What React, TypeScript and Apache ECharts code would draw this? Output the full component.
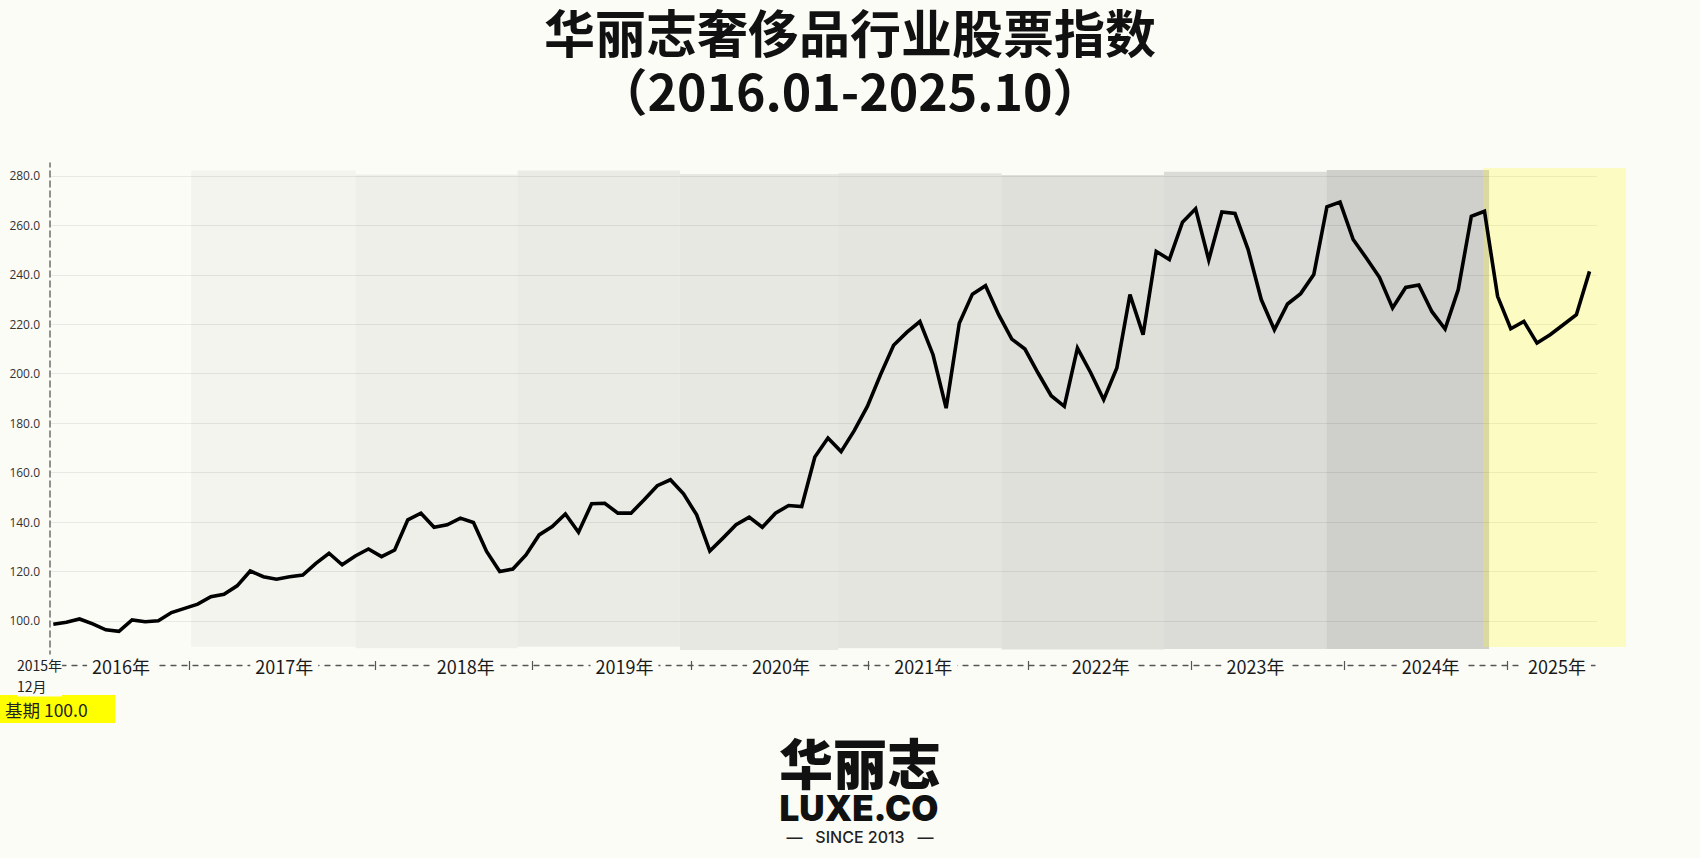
import React, { useEffect, useRef } from 'react';
import * as echarts from 'echarts';

// Monthly index values, Jan 2016 .. Oct 2025 (base Dec 2015 = 100)
const indexValues: number[] = [
  98.7, 99.5, 100.8, 98.8, 96.4, 95.8, 100.4, 99.7, 100.1, 103.4, 105.1, 106.8,
  109.8, 110.8, 114.2, 120.2, 117.9, 116.9, 117.9, 118.6, 123.3, 127.4, 122.7, 126.3,
  129.1, 126.0, 128.7, 140.9, 143.6, 137.9, 138.9, 141.6, 139.8, 128.1, 120.0, 121.0,
  126.7, 134.8, 138.2, 143.3, 135.9, 147.4, 147.6, 143.6, 143.6, 149.0, 154.7, 157.1,
  151.4, 142.9, 128.3, 133.5, 138.9, 142.0, 137.9, 143.6, 146.7, 146.3, 166.3, 174.0,
  168.5, 177.0, 186.8, 199.6, 211.5, 216.7, 221.1, 207.7, 186.1, 220.4, 232.2, 235.6,
  223.9, 214.0, 210.0, 200.3, 191.1, 186.8, 210.4, 200.5, 189.5, 202.3, 232.0, 215.8,
  249.5, 246.2, 261.3, 266.7, 246.0, 265.4, 264.8, 250.2, 230.0, 217.8, 228.2, 232.4,
  240.1, 267.5, 269.4, 254.3, 246.8, 239.0, 226.6, 234.9, 235.9, 225.1, 218.1, 234.0,
  263.7, 265.7, 231.3, 218.2, 221.2, 212.4, 215.8, 219.8, 223.9, 241.4,
];

// Year tick labels (x in month-index units, 0 = Jan 2016)
const yearLabels: string[] = ['2016年', '2017年', '2018年', '2019年', '2020年', '2021年', '2022年', '2023年', '2024年', '2025年'];
const yearLabelPos: number[] = [5.16, 17.59, 31.41, 43.5, 55.43, 66.26, 79.78, 91.56, 104.9, 114.52];
const yearTickPos: number[] = [10.33, 24.5, 36.46, 48.6, 62.07, 74.26, 86.65, 98.3, 110.7];

// Year background bands (month-index units / index values)
const bandNames: string[] = ['2017', '2018', '2019', '2020', '2021', '2022', '2023', '2024'];
const bandStart: number[] = [10.49, 23.03, 35.37, 47.73, 59.79, 72.23, 84.59, 96.98];
const bandEnd: number[] = [23.03, 35.37, 47.73, 59.79, 72.23, 84.59, 96.98, 109.35];
const bandTop: number[] = [282.2, 280.6, 282.2, 280.8, 281.1, 280.4, 281.7, 282.4];
const bandBottom: number[] = [89.6, 89.0, 89.6, 88.3, 89.0, 88.5, 88.7, 88.7];
const bandShade: number[] = [0.03, 0.05, 0.065, 0.08, 0.09, 0.108, 0.128, 0.178];

const highlightStart = 108.89;
const highlightTop = 283.2;

const BG = '#fcfcf7';

export default function App() {
  const ref = useRef<HTMLDivElement>(null);
  useEffect(() => {
    if (!ref.current) return;
    const chart = echarts.init(ref.current, undefined, { renderer: 'svg' });
    const labelFor = (v: number) => {
      const i = yearLabelPos.findIndex((p) => Math.abs(p - v) < 1e-6);
      return i >= 0 ? yearLabels[i] : '';
    };
    const titleStyle = {
      fontFamily: 'Noto Sans CJK SC',
      fontWeight: 'bold',
      fontSize: 50,
      lineHeight: 52,
      color: '#111',
    };
    const option: any = {
      animation: false,
      backgroundColor: BG,
      title: [
        { text: '华丽志奢侈品行业股票指数', left: 'center', top: 5, padding: 0, textStyle: { ...titleStyle, fontSize: 51 } },
        { text: '（2016.01-2025.10）', left: 'center', top: 63, padding: 0, textStyle: titleStyle },
      ],
      grid: [
        { left: 50, top: 163.6, width: 1547, height: 506.8 },
        { left: 50, top: 163, width: 10, height: 514 },
      ],
      xAxis: [
        {
          gridIndex: 0, type: 'value', min: -0.251, max: 117.57, position: 'bottom', offset: -5, z: 1,
          axisLine: { show: true, lineStyle: { type: [5, 6], color: '#555', width: 1.3 } },
          axisTick: { show: false }, axisLabel: { show: false }, splitLine: { show: false },
        },
        {
          gridIndex: 0, type: 'value', min: -0.251, max: 117.57, position: 'bottom', offset: -9.4, z: 3,
          axisLine: { show: false },
          axisTick: { show: true, customValues: yearTickPos, length: 9, lineStyle: { color: '#555', width: 1.2 } },
          axisLabel: {
            show: true, customValues: yearLabelPos, formatter: labelFor, margin: 4.5,
            verticalAlign: 'middle', fontSize: 18, color: '#1a1a1a', fontFamily: 'Noto Sans CJK SC',
            backgroundColor: BG, padding: [0, 5],
          },
          splitLine: { show: false },
        },
        { gridIndex: 1, type: 'value', show: false, min: 0, max: 1 },
      ],
      yAxis: [
        {
          gridIndex: 0, type: 'value', min: 80, max: 285, interval: 20,
          axisLine: { show: false }, axisTick: { show: false },
          axisLabel: {
            formatter: (v: number) => (v >= 100 && v <= 280 ? v.toFixed(1) : ''),
            fontSize: 12, color: '#333', margin: 10, fontFamily: 'Open Sans',
            showMinLabel: false, showMaxLabel: false,
          },
          splitLine: { show: true, showMinLine: false, showMaxLine: false, lineStyle: { color: '#e8e8e4', width: 1 } },
        },
        {
          gridIndex: 1, type: 'value', min: 0, max: 1,
          axisLine: { show: true, lineStyle: { type: [6, 4], color: '#6e6e6e', width: 1.5 } },
          axisTick: { show: false }, axisLabel: { show: false }, splitLine: { show: false },
        },
      ],
      series: [
        {
          name: 'bands', type: 'line', xAxisIndex: 0, yAxisIndex: 0, data: [], z: 1, silent: true,
          markArea: {
            silent: true,
            data: bandNames.map((n, i) => [
              { name: '', xAxis: bandStart[i], yAxis: bandTop[i], itemStyle: { color: `rgba(0,0,0,${bandShade[i]})` } },
              { xAxis: bandEnd[i], yAxis: bandBottom[i] },
            ]),
          },
        },
        {
          name: '华丽志奢侈品行业股票指数', type: 'line', xAxisIndex: 0, yAxisIndex: 0, z: 3, silent: true,
          data: indexValues.map((v, i) => [i, v]),
          symbol: 'none',
          lineStyle: { color: '#000', width: 3.6, join: 'miter' },
        },
        {
          name: 'highlight', type: 'line', xAxisIndex: 0, yAxisIndex: 0, data: [], z: 10, silent: true,
          markArea: {
            silent: true,
            itemStyle: { color: 'rgba(255,255,0,0.21)' },
            data: [[{ name: '', xAxis: highlightStart, yAxis: highlightTop }, { x: 1626, y: 647 }]],
          },
        },
      ],
      graphic: [
        {
          type: 'text', x: 17, y: 654.5, z: 20,
          style: { text: '2015年\n12月', fontSize: 14, lineHeight: 21, fill: '#222', fontFamily: 'Noto Sans CJK SC', backgroundColor: BG },
        },
        { type: 'rect', shape: { x: 0, y: 695, width: 115, height: 28 }, style: { fill: '#ffff00' } },
        {
          type: 'text', x: 5, y: 709.5,
          style: { text: '基期 100.0', fontSize: 17.5, fill: '#222', fontFamily: 'Noto Sans CJK SC', verticalAlign: 'middle' },
        },
        {
          type: 'text', x: 860, y: 761,
          style: { text: '华丽志', fontSize: 54, lineHeight: 44, fontWeight: 900, fill: '#111', fontFamily: 'Noto Sans CJK SC', align: 'center', verticalAlign: 'middle' },
        },
        {
          type: 'text', x: 859, y: 808,
          style: { text: 'LUXE.CO', fontSize: 35, lineHeight: 30, fontWeight: 900, fill: '#111', fontFamily: 'Inter', align: 'center', verticalAlign: 'middle' },
        },
        {
          type: 'text', x: 860, y: 837,
          style: { text: '—   SINCE 2013   —', fontSize: 16, lineHeight: 18, fontWeight: 500, fill: '#222', fontFamily: 'Inter', align: 'center', verticalAlign: 'middle' },
        },
      ],
    };
    chart.setOption(option);
    return () => chart.dispose();
  }, []);
  return <div ref={ref} style={{ position: 'fixed', left: 0, top: 0, width: 1700, height: 858 }} />;
}
